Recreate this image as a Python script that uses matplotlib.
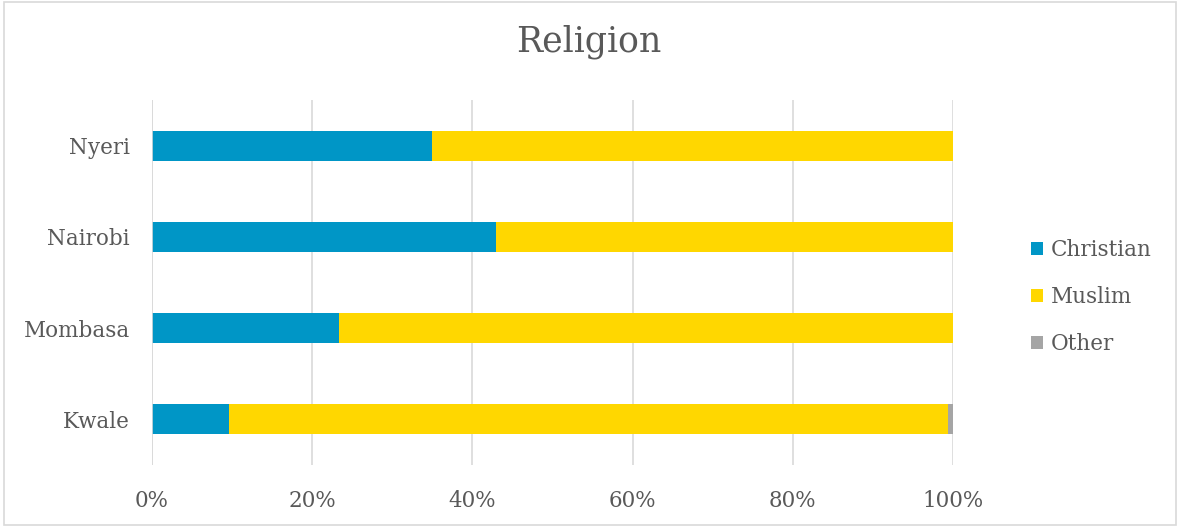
import matplotlib.pyplot as plt
from matplotlib.patches import Rectangle
import numpy as np

counties = ["Kwale", "Mombasa", "Nairobi", "Nyeri"]
christian = [9.6, 23.3, 42.9, 35.0]
muslim = [89.8, 76.7, 57.1, 65.0]
other = [0.6, 0.0, 0.0, 0.0]
series_names = ["Christian", "Muslim", "Other"]
series_colors = ["#0096C6", "#FFD700", "#A5A5A5"]
tick_labels = ["0%", "20%", "40%", "60%", "80%", "100%"]

plt.rcParams['font.family'] = ['DejaVu Serif']
text_color = "#595959"
grid_color = "#D9D9D9"

fig = plt.figure(figsize=(11.8, 5.27), dpi=100)
# outer chart border
fig.patches.append(Rectangle((0.003, 0.004), 0.994, 0.992, transform=fig.transFigure,
                             fill=False, edgecolor=grid_color, linewidth=1.2))

ax = fig.add_axes([152 / 1180, 1 - 465 / 527, (953 - 152) / 1180, 365 / 527])

y = np.arange(len(counties))
left = np.zeros(len(counties))
for vals, name, col in zip([christian, muslim, other], series_names, series_colors):
    ax.barh(y, vals, left=left, height=0.33, color=col, label=name, zorder=3)
    left += np.array(vals)

ax.set_xlim(0, 100)
ax.set_ylim(-0.5, 3.5)
ax.set_xticks(np.arange(0, 101, 20))
ax.set_xticklabels(tick_labels)
ax.set_yticks(y)
ax.set_yticklabels(counties)
ax.tick_params(axis='both', length=0, labelsize=15.5, labelcolor=text_color)
ax.tick_params(axis='x', pad=18)
ax.tick_params(axis='y', pad=16)
ax.grid(axis='x', color=grid_color, linewidth=1.2, zorder=0)
for s in ax.spines.values():
    s.set_visible(False)
ax.axvline(0, color=grid_color, linewidth=1.2, zorder=4)

fig.text(589 / 1180, 1 - 42 / 527, "Religion", ha='center', va='center',
         fontsize=25, color=text_color)

handles, labels = ax.get_legend_handles_labels()
leg = fig.legend(handles, labels, loc='center left',
                 bbox_to_anchor=(1012 / 1180, 1 - 297 / 527),
                 frameon=False, fontsize=15.5, labelcolor=text_color,
                 handlelength=0.55, handleheight=0.55, handletextpad=0.35,
                 labelspacing=1.15)

fig.savefig("out.png", dpi=100)
